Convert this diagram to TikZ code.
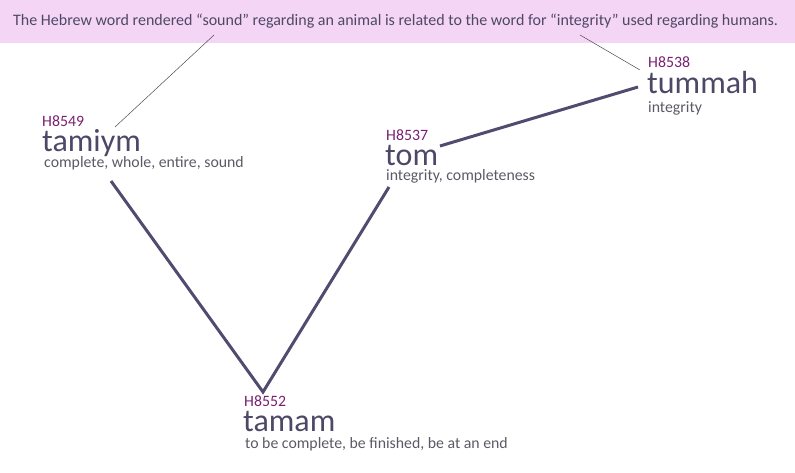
\documentclass[tikz,border=0pt]{standalone}
\usepackage{fontspec}
\setmainfont{Carlito}
\definecolor{banner}{HTML}{F5D5F5}
\definecolor{codec}{HTML}{7A2070}
\definecolor{wordc}{HTML}{4D4866}
\definecolor{glossc}{HTML}{5A5A66}
\definecolor{linkc}{HTML}{514B70}
\begin{document}
\begin{tikzpicture}[x=1pt,y=-1pt,
  codetext/.style={anchor=base west,inner sep=0pt,text depth=0pt,text=codec,font=\fontsize{15.8}{18}\selectfont},
  wordtext/.style={anchor=base west,inner sep=0pt,text height=14pt,text depth=0pt,text=wordc,font=\fontsize{32}{36}\selectfont},
  glosstext/.style={anchor=base west,inner sep=0pt,text height=9pt,text=glossc,font=\fontsize{15.8}{18}\selectfont},
  link/.style={draw=linkc,line width=3pt},
  note/.style={draw=black!70,line width=0.5pt}]
\useasboundingbox (0,0) rectangle (795,473);
\fill[banner] (0,0) rectangle (795,43);
\node[anchor=base west,inner sep=0pt,text=wordc,font=\fontsize{16}{18}\selectfont] (ban) at (13,26) {The Hebrew word rendered “sound” regarding an animal is related to the word for “integrity” used regarding humans.};
% tamiym
\node[codetext] (c1) at (42,127) {H8549};
\node[wordtext] (w1) at (42,152) {tamiym};
\node[glosstext] (g1) at (44,168) {complete, whole, entire, sound};
% tom
\node[codetext] (c2) at (386,141) {H8537};
\node[wordtext] (w2) at (385,166) {tom};
\node[glosstext] (g2) at (386,181) {integrity, completeness};
% tummah
\node[codetext] (c3) at (648,68) {H8538};
\node[wordtext] (w3) at (647,94) {tummah};
\node[glosstext] (g3) at (648,113) {integrity};
% tamam
\node[codetext] (c4) at (244,406) {H8552};
\node[wordtext] (w4) at (243,431) {tamam};
\node[glosstext] (g4) at (245,448) {to be complete, be finished, be at an end};
% connector ends
\coordinate (a1) at (111,181);
\coordinate (a4) at (263,392);
\coordinate (a2) at (389,187);
\coordinate (b2) at (440,146);
\coordinate (b3) at (638,87);
\coordinate (n1) at (214,35);
\coordinate (n1e) at (115,127);
\coordinate (n2) at (580,35);
\coordinate (n2e) at (640,70);
\draw[link] (a1) -- (a4) -- (a2);
\draw[link] (b2) -- (b3);
\draw[note] (n1) -- (n1e);
\draw[note] (n2) -- (n2e);
\end{tikzpicture}
\end{document}
